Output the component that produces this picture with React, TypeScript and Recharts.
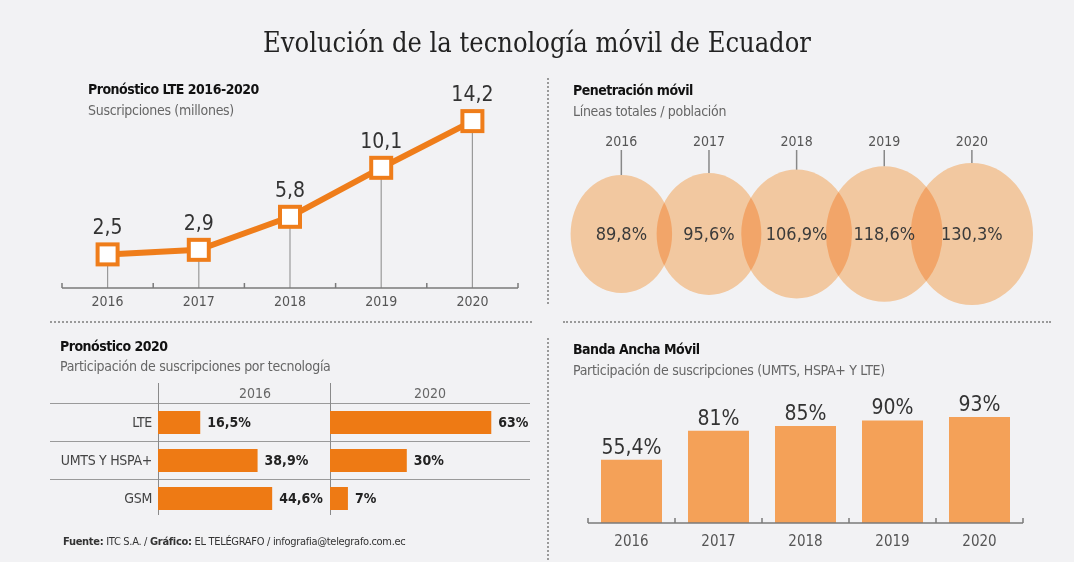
import React from "react";
import {
  ComposedChart,
  BarChart,
  ScatterChart,
  Line,
  Bar,
  Scatter,
  XAxis,
  YAxis,
  ZAxis,
  LabelList,
} from "recharts";

// --- data ---
const years = ["2016", "2017", "2018", "2019", "2020"];
const lteSubs = [2.5, 2.9, 5.8, 10.1, 14.2];
const penetration = [89.8, 95.6, 106.9, 118.6, 130.3];
const techs = ["LTE", "UMTS Y HSPA+", "GSM"];
const share2016 = [16.5, 38.9, 44.6];
const share2020 = [63, 30, 7];
const broadband = [55.4, 81, 85, 90, 93];

const lteData = years.map((year, i) => ({ year, value: lteSubs[i] }));
const penData = years.map((year, i) => ({ year: Number(year), y: 1, value: penetration[i] }));
const shareData = techs.map((tech, i) => ({ tech, y2016: share2016[i], y2020: share2020[i] }));
const bbData = years.map((year, i) => ({ year, value: broadband[i] }));

const NARROW = '"Liberation Sans Narrow", "DejaVu Sans Condensed", "Roboto Condensed", Roboto, sans-serif';
const SERIF = '"DejaVu Serif Condensed", "Liberation Serif", serif';
const ORANGE = "#ef7d1a";
const BAR_ORANGE = "#ee7a14";
const LIGHT_BAR = "#f4a158";
const AXIS = "#7a7a7a";
const LTE_MIN = -0.45;
const PCT_PX = 2.56;

const fmt = (v: number) => (Number.isInteger(v) ? String(v) : v.toFixed(1).replace(".", ","));

const Txt = ({ x, y, size, bold, color = "#222", center, spacing = 0, children }: any) => (
  <div
    style={{
      position: "absolute",
      left: x,
      top: y - size * 0.6,
      fontSize: size,
      lineHeight: `${size * 1.2}px`,
      fontWeight: bold ? 700 : 400,
      letterSpacing: spacing,
      color,
      whiteSpace: "nowrap",
      transform: center ? "translateX(-50%)" : undefined,
    }}
  >
    {children}
  </div>
);

const Title = ({ x, y, children }: any) => (
  <Txt x={x} y={y} size={14} bold color="#111" spacing={-0.5}>{children}</Txt>
);
const Sub = ({ x, y, children }: any) => (
  <Txt x={x} y={y} size={14} color="#666" spacing={-0.3}>{children}</Txt>
);

const makeTick = (half: number, offset: number, size: number) => (props: any) => {
  const { x, y, payload, index, visibleTicksCount } = props;
  const axisY = y - offset;
  const last = index === (visibleTicksCount ?? years.length) - 1;
  return (
    <g>
      <line x1={x - half} x2={x - half} y1={axisY} y2={axisY - 5} stroke={AXIS} strokeWidth={1.5} />
      {last && <line x1={x + half} x2={x + half} y1={axisY} y2={axisY - 5} stroke={AXIS} strokeWidth={1.5} />}
      <text x={x} y={y} dy="0.71em" textAnchor="middle" fontSize={size} fill="#555" fontFamily={NARROW}>
        {payload.value}
      </text>
    </g>
  );
};

const RowTick = (props: any) => {
  const { x, y, payload } = props;
  return (
    <text x={x} y={y} dy="0.35em" textAnchor="end" fontSize={14} fill="#444" fontFamily={NARROW} letterSpacing={-0.3}>
      {payload.value}
    </text>
  );
};

const SquareDot = (props: any) => {
  const { cx, cy } = props;
  return <rect x={cx - 10} y={cy - 10} width={20} height={20} fill="#fff" stroke={ORANGE} strokeWidth={4} />;
};

const Bubble = (props: any) => {
  const { cx, cy, width } = props;
  const r = width / 2;
  return (
    <g>
      <line x1={cx} x2={cx} y1={cy - r} y2={30} stroke="#888" strokeWidth={1.5} />
      <ellipse cx={cx} cy={cy} rx={r * 0.86} ry={r} fill="#ffd3a7" style={{ mixBlendMode: "multiply" }} />
    </g>
  );
};

const Dots = ({ x, y, w, h }: any) => (
  <div
    style={{
      position: "absolute",
      left: x,
      top: y,
      width: w,
      height: h,
      borderTop: h ? undefined : "2px dotted #9a9a9a",
      borderLeft: h ? "2px dotted #9a9a9a" : undefined,
    }}
  />
);

const HLine = ({ x, y, w }: any) => (
  <div style={{ position: "absolute", left: x, top: y, width: w, height: 0, borderTop: "1.5px solid #9a9a9a" }} />
);
const VLine = ({ x, y, h }: any) => (
  <div style={{ position: "absolute", left: x, top: y, width: 0, height: h, borderLeft: "1.5px solid #8a8a8a" }} />
);

const pctLabel = (v: any) => `${fmt(Number(v))}%`;

export default function App() {
  return (
    <div
      style={{
        position: "absolute",
        left: 0,
        top: 0,
        width: 1074,
        height: 562,
        background: "#f2f2f4",
        overflow: "hidden",
        fontFamily: NARROW,
      }}
    >
      <div
        style={{
          position: "absolute",
          left: 0,
          width: 1074,
          top: 25,
          textAlign: "center",
          fontFamily: SERIF,
          fontSize: 27,
          lineHeight: "36px",
          color: "#222",
        }}
      >
        Evolución de la tecnología móvil de Ecuador
      </div>

      {/* separators */}
      <Dots x={547} y={78} w={0} h={226} />
      <Dots x={547} y={338} w={0} h={222} />
      <Dots x={50} y={321} w={482} h={0} />
      <Dots x={563} y={321} w={488} h={0} />

      {/* top-left: LTE forecast */}
      <div style={{ position: "absolute", left: 50, top: 66 }}>
        <ComposedChart width={480} height={249} data={lteData} margin={{ top: 46, right: 12, bottom: 0, left: 12 }}>
          <XAxis
            dataKey="year"
            height={27}
            stroke={AXIS}
            strokeWidth={1.5}
            tickLine={false}
            tickSize={0}
            tickMargin={8}
            tick={makeTick(45.6, 8, 14)}
            interval={0}
          />
          <YAxis hide domain={[LTE_MIN, 15]} />
          <Bar dataKey={(d: any) => [LTE_MIN, d.value]} barSize={1.2} fill="#9a9a9a" isAnimationActive={false} />
          <Line
            dataKey="value"
            stroke={ORANGE}
            strokeWidth={6}
            dot={<SquareDot />}
            activeDot={false}
            isAnimationActive={false}
          >
            <LabelList dataKey="value" position="top" offset={20} fontSize={21} fill="#333" formatter={(v: any) => fmt(Number(v))} />
          </Line>
        </ComposedChart>
      </div>
      <Title x={88} y={89}>Pronóstico LTE 2016-2020</Title>
      <Sub x={88} y={110}>Suscripciones (millones)</Sub>

      {/* top-right: penetration bubbles */}
      <Title x={573} y={90}>Penetración móvil</Title>
      <Sub x={573} y={111}>Líneas totales / población</Sub>
      <div style={{ position: "absolute", left: 560, top: 120 }}>
        <ScatterChart width={482} height={240} margin={{ top: 0, right: 0, bottom: 42, left: 0 }}>
          <XAxis
            type="number"
            dataKey="year"
            orientation="top"
            domain={[2015.3, 2020.8]}
            ticks={penData.map((d) => d.year)}
            height={30}
            axisLine={false}
            tickLine={false}
            tickSize={0}
            tickMargin={4}
            tick={{ fontSize: 14, fill: "#555", fontFamily: NARROW }}
          />
          <YAxis type="number" dataKey="y" hide domain={[0, 2]} />
          <ZAxis type="number" dataKey="value" domain={[0, 140]} range={[0, 17052]} />
          <Scatter data={penData} shape={<Bubble />} isAnimationActive={false}>
            <LabelList dataKey="value" position="center" fontSize={18} fill="#3a3a3a" formatter={pctLabel} />
          </Scatter>
        </ScatterChart>
      </div>

      {/* bottom-left: technology share */}
      <Title x={60} y={346}>Pronóstico 2020</Title>
      <Sub x={60} y={366}>Participación de suscripciones por tecnología</Sub>
      <Txt x={255} y={393} size={14} color="#666" center>2016</Txt>
      <Txt x={430} y={393} size={14} color="#666" center>2020</Txt>
      <HLine x={50} y={403} w={480} />
      <HLine x={50} y={441} w={480} />
      <HLine x={50} y={479} w={480} />
      <VLine x={158} y={383} h={132} />
      <VLine x={330} y={383} h={132} />
      <div style={{ position: "absolute", left: 50, top: 403 }}>
        <BarChart width={280} height={114} data={shareData} layout="vertical" margin={{ top: 0, right: 0, bottom: 0, left: 0 }}>
          <XAxis type="number" hide domain={[0, 172 / PCT_PX]} />
          <YAxis
            type="category"
            dataKey="tech"
            width={108}
            axisLine={false}
            tickLine={false}
            tickSize={0}
            tickMargin={6}
            tick={<RowTick />}
          />
          <Bar dataKey="y2016" barSize={23} fill={BAR_ORANGE} isAnimationActive={false}>
            <LabelList dataKey="y2016" position="right" offset={7} fontSize={14} fontWeight={700} fill="#222" formatter={pctLabel} />
          </Bar>
        </BarChart>
      </div>
      <div style={{ position: "absolute", left: 330, top: 403 }}>
        <BarChart width={220} height={114} data={shareData} layout="vertical" margin={{ top: 0, right: 0, bottom: 0, left: 0 }}>
          <XAxis type="number" hide domain={[0, 220 / PCT_PX]} />
          <YAxis type="category" dataKey="tech" hide />
          <Bar dataKey="y2020" barSize={23} fill={BAR_ORANGE} isAnimationActive={false}>
            <LabelList dataKey="y2020" position="right" offset={7} fontSize={14} fontWeight={700} fill="#222" formatter={pctLabel} />
          </Bar>
        </BarChart>
      </div>
      <div
        style={{
          position: "absolute",
          left: 63,
          top: 535,
          fontSize: 11,
          lineHeight: "14px",
          letterSpacing: -0.3,
          color: "#333",
          whiteSpace: "nowrap",
        }}
      >
        <b>Fuente:</b> ITC S.A. / <b>Gráfico:</b> EL TELÉGRAFO / infografia@telegrafo.com.ec
      </div>

      {/* bottom-right: mobile broadband */}
      <Title x={573} y={349}>Banda Ancha Móvil</Title>
      <Sub x={573} y={370}>Participación de suscripciones (UMTS, HSPA+ Y LTE)</Sub>
      <div style={{ position: "absolute", left: 578, top: 380 }}>
        <BarChart width={455} height={180} data={bbData} margin={{ top: 29, right: 10, bottom: 0, left: 10 }}>
          <XAxis
            dataKey="year"
            height={37}
            stroke={AXIS}
            strokeWidth={1.5}
            tickLine={false}
            tickSize={0}
            tickMargin={12}
            tick={makeTick(43.5, 12, 15)}
            interval={0}
          />
          <YAxis hide domain={[0, 100]} />
          <Bar dataKey="value" barSize={61} fill={LIGHT_BAR} isAnimationActive={false}>
            <LabelList dataKey="value" position="top" offset={6} fontSize={21} fill="#333" formatter={pctLabel} />
          </Bar>
        </BarChart>
      </div>
    </div>
  );
}
